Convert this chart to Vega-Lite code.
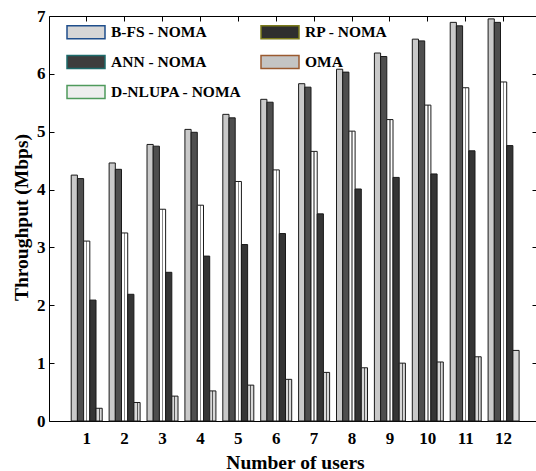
{
  "$schema": "https://vega.github.io/schema/vega-lite/v6.json",
  "autosize": {"type": "none"},
  "width": 487,
  "height": 405,
  "padding": {"left": 49, "top": 16, "right": 0, "bottom": 50},
  "background": "white",
  "config": {
    "view": {"stroke": null},
    "font": "Liberation Serif",
    "axis": {
      "labelFont": "Liberation Serif",
      "labelFontWeight": "bold",
      "labelFontSize": 17,
      "labelColor": "black",
      "titleFont": "Liberation Serif",
      "titleFontWeight": "bold",
      "titleFontSize": 19.5,
      "titleColor": "black",
      "domainColor": "black",
      "domainWidth": 1,
      "tickColor": "black",
      "tickWidth": 1,
      "grid": false
    },
    "legend": {
      "labelFont": "Liberation Serif",
      "labelFontWeight": "bold",
      "labelFontSize": 15.5,
      "labelColor": "black"
    }
  },
  "datasets": {
    "throughput": [
      {"user": 1, "series": "B-FS - NOMA", "value": 4.25},
      {"user": 1, "series": "ANN - NOMA", "value": 4.19},
      {"user": 1, "series": "D-NLUPA - NOMA", "value": 3.11},
      {"user": 1, "series": "RP - NOMA", "value": 2.09},
      {"user": 1, "series": "OMA", "value": 0.22},
      {"user": 2, "series": "B-FS - NOMA", "value": 4.46},
      {"user": 2, "series": "ANN - NOMA", "value": 4.35},
      {"user": 2, "series": "D-NLUPA - NOMA", "value": 3.25},
      {"user": 2, "series": "RP - NOMA", "value": 2.19},
      {"user": 2, "series": "OMA", "value": 0.32},
      {"user": 3, "series": "B-FS - NOMA", "value": 4.78},
      {"user": 3, "series": "ANN - NOMA", "value": 4.75},
      {"user": 3, "series": "D-NLUPA - NOMA", "value": 3.66},
      {"user": 3, "series": "RP - NOMA", "value": 2.57},
      {"user": 3, "series": "OMA", "value": 0.43},
      {"user": 4, "series": "B-FS - NOMA", "value": 5.04},
      {"user": 4, "series": "ANN - NOMA", "value": 4.99},
      {"user": 4, "series": "D-NLUPA - NOMA", "value": 3.73},
      {"user": 4, "series": "RP - NOMA", "value": 2.85},
      {"user": 4, "series": "OMA", "value": 0.52},
      {"user": 5, "series": "B-FS - NOMA", "value": 5.30},
      {"user": 5, "series": "ANN - NOMA", "value": 5.24},
      {"user": 5, "series": "D-NLUPA - NOMA", "value": 4.14},
      {"user": 5, "series": "RP - NOMA", "value": 3.05},
      {"user": 5, "series": "OMA", "value": 0.62},
      {"user": 6, "series": "B-FS - NOMA", "value": 5.56},
      {"user": 6, "series": "ANN - NOMA", "value": 5.51},
      {"user": 6, "series": "D-NLUPA - NOMA", "value": 4.34},
      {"user": 6, "series": "RP - NOMA", "value": 3.24},
      {"user": 6, "series": "OMA", "value": 0.72},
      {"user": 7, "series": "B-FS - NOMA", "value": 5.83},
      {"user": 7, "series": "ANN - NOMA", "value": 5.77},
      {"user": 7, "series": "D-NLUPA - NOMA", "value": 4.66},
      {"user": 7, "series": "RP - NOMA", "value": 3.58},
      {"user": 7, "series": "OMA", "value": 0.84},
      {"user": 8, "series": "B-FS - NOMA", "value": 6.08},
      {"user": 8, "series": "ANN - NOMA", "value": 6.03},
      {"user": 8, "series": "D-NLUPA - NOMA", "value": 5.01},
      {"user": 8, "series": "RP - NOMA", "value": 4.01},
      {"user": 8, "series": "OMA", "value": 0.92},
      {"user": 9, "series": "B-FS - NOMA", "value": 6.36},
      {"user": 9, "series": "ANN - NOMA", "value": 6.30},
      {"user": 9, "series": "D-NLUPA - NOMA", "value": 5.21},
      {"user": 9, "series": "RP - NOMA", "value": 4.21},
      {"user": 9, "series": "OMA", "value": 1.00},
      {"user": 10, "series": "B-FS - NOMA", "value": 6.60},
      {"user": 10, "series": "ANN - NOMA", "value": 6.57},
      {"user": 10, "series": "D-NLUPA - NOMA", "value": 5.46},
      {"user": 10, "series": "RP - NOMA", "value": 4.27},
      {"user": 10, "series": "OMA", "value": 1.02},
      {"user": 11, "series": "B-FS - NOMA", "value": 6.89},
      {"user": 11, "series": "ANN - NOMA", "value": 6.83},
      {"user": 11, "series": "D-NLUPA - NOMA", "value": 5.76},
      {"user": 11, "series": "RP - NOMA", "value": 4.67},
      {"user": 11, "series": "OMA", "value": 1.11},
      {"user": 12, "series": "B-FS - NOMA", "value": 6.95},
      {"user": 12, "series": "ANN - NOMA", "value": 6.89},
      {"user": 12, "series": "D-NLUPA - NOMA", "value": 5.86},
      {"user": 12, "series": "RP - NOMA", "value": 4.76},
      {"user": 12, "series": "OMA", "value": 1.22}
    ],
    "none": []
  },
  "data": {"name": "throughput"},
  "resolve": {"axis": {"x": "independent", "y": "independent"}},
  "layer": [
    {
      "mark": {"type": "bar", "strokeWidth": 1, "stroke": "#1a1a1a"},
      "encoding": {
        "x": {
          "field": "user",
          "type": "ordinal",
          "scale": {"paddingInner": 0.182, "paddingOuter": 0.516, "align": 0.568},
          "axis": {
            "orient": "bottom",
            "title": "Number of users",
            "labelAngle": 0,
            "ticks": false,
            "labelPadding": 9,
            "titleX": 246,
            "titleY": 47,
            "titleBaseline": "alphabetic",
            "titleAnchor": "middle",
            "titleAlign": "center"
          }
        },
        "y": {
          "field": "value",
          "type": "quantitative",
          "scale": {"domain": [0, 7], "nice": false, "zero": true},
          "axis": {
            "orient": "left",
            "title": "Throughput (Mbps)",
            "values": [0, 1, 2, 3, 4, 5, 6, 7],
            "tickSize": -5,
            "labelPadding": 9,
            "titleX": -22,
            "titleY": 201,
            "titleBaseline": "alphabetic",
            "titleAngle": -90,
            "titleAlign": "center",
            "titleAnchor": "middle"
          }
        },
        "xOffset": {
          "field": "series",
          "type": "nominal",
          "sort": ["B-FS - NOMA", "ANN - NOMA", "D-NLUPA - NOMA", "RP - NOMA", "OMA"],
          "scale": {"paddingInner": 0, "paddingOuter": 0}
        },
        "fill": {
          "condition": [
            {"test": "datum.series === 'B-FS - NOMA'", "value": "#c9c9c9"},
            {"test": "datum.series === 'ANN - NOMA'", "value": "#4e4e4e"},
            {"test": "datum.series === 'D-NLUPA - NOMA'", "value": {"gradient": "linear", "x1": 0, "y1": 0, "x2": 1, "y2": 0, "stops": [
              {"offset": 0, "color": "#ffffff"}, {"offset": 0.4, "color": "#ffffff"}, {"offset": 0.4, "color": "#8a8a8a"},
              {"offset": 0.62, "color": "#8a8a8a"}, {"offset": 0.62, "color": "#ffffff"}, {"offset": 1, "color": "#ffffff"}]}},
            {"test": "datum.series === 'RP - NOMA'", "value": "#353535"}
          ],
          "value": {"gradient": "linear", "x1": 0, "y1": 0, "x2": 1, "y2": 0, "stops": [
            {"offset": 0, "color": "#d8d8d8"}, {"offset": 0.42, "color": "#d8d8d8"}, {"offset": 0.42, "color": "#555555"},
            {"offset": 0.58, "color": "#555555"}, {"offset": 0.58, "color": "#d8d8d8"}, {"offset": 1, "color": "#d8d8d8"}]}
        }
      }
    },
    {
      "data": {"name": "none"},
      "mark": {"type": "bar", "strokeWidth": 1.5},
      "encoding": {
        "x": {"field": "user", "type": "ordinal", "axis": null},
        "y": {"field": "value", "type": "quantitative", "axis": null},
        "fill": {
          "field": "series",
          "type": "nominal",
          "scale": {
            "domain": ["B-FS - NOMA", "ANN - NOMA", "D-NLUPA - NOMA", "RP - NOMA", "OMA"],
            "range": ["#d6d6d6", "#3d3d3d", "#eeeeee", "#2e2e2e", "#c4c4c4"]
          },
          "legend": {
            "title": null,
            "orient": "none",
            "legendX": 17,
            "legendY": -4,
            "padding": 0,
            "columns": 2,
            "columnPadding": 16,
            "rowPadding": -9.5,
            "labelOffset": 5,
            "symbolType": "M-1,-0.34L1,-0.34L1,0.34L-1,0.34Z",
            "symbolSize": 1444,
            "symbolStrokeWidth": 1.5,
            "symbolOpacity": 1
          }
        },
        "stroke": {
          "field": "series",
          "type": "nominal",
          "scale": {
            "domain": ["B-FS - NOMA", "ANN - NOMA", "D-NLUPA - NOMA", "RP - NOMA", "OMA"],
            "range": ["#1f4e8c", "#1d6b6b", "#4f9a5c", "#7a7a1a", "#9a5a30"]
          },
          "legend": {
            "title": null,
            "orient": "none",
            "legendX": 17,
            "legendY": -4,
            "padding": 0,
            "columns": 2,
            "columnPadding": 16,
            "rowPadding": -9.5,
            "labelOffset": 5,
            "symbolType": "M-1,-0.34L1,-0.34L1,0.34L-1,0.34Z",
            "symbolSize": 1444,
            "symbolStrokeWidth": 1.5,
            "symbolOpacity": 1
          }
        }
      }
    },
    {
      "mark": {"type": "point", "opacity": 0},
      "encoding": {
        "x": {
          "field": "user",
          "type": "ordinal",
          "axis": {"orient": "top", "title": null, "labels": false, "tickSize": -5, "domain": true}
        },
        "y": {
          "field": "value",
          "type": "quantitative",
          "axis": {"orient": "right", "title": null, "labels": false, "domain": false, "tickSize": -4, "values": [0, 1, 2, 3, 4, 5, 6, 7]}
        }
      }
    }
  ]
}
